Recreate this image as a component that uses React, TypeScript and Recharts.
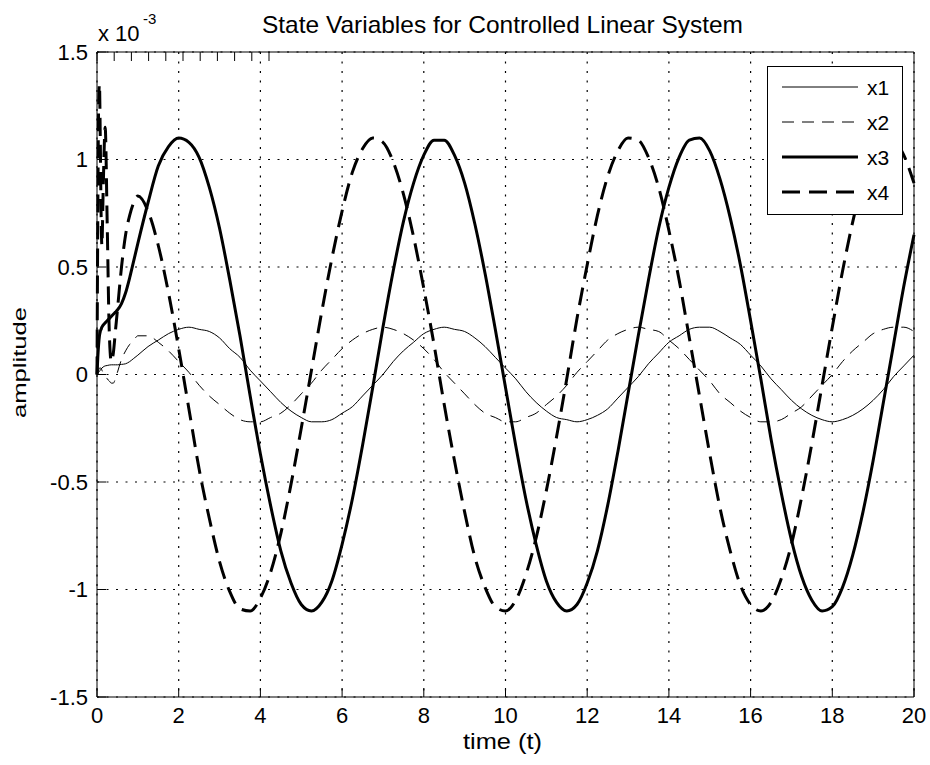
import { CartesianGrid, Legend, Line, LineChart, XAxis, YAxis } from 'recharts'

// time samples (s); dense at the start where x4 rings
const time = [
  0, 0.02, 0.04, 0.06, 0.08, 0.1, 0.12, 0.15, 0.2, 0.25, 0.3, 0.35, 0.4, 0.45, 0.5, 0.6, 0.7, 0.8, 0.9,
  1, 1.25, 1.5, 1.75, 2, 2.25, 2.5, 2.75, 3, 3.25, 3.5, 3.75, 4, 4.25, 4.5, 4.75,
  5, 5.25, 5.5, 5.75, 6, 6.25, 6.5, 6.75, 7, 7.25, 7.5, 7.75, 8, 8.25, 8.5, 8.75,
  9, 9.25, 9.5, 9.75, 10, 10.25, 10.5, 10.75, 11, 11.25, 11.5, 11.75, 12, 12.25, 12.5, 12.75,
  13, 13.25, 13.5, 13.75, 14, 14.25, 14.5, 14.75, 15, 15.25, 15.5, 15.75, 16, 16.25, 16.5, 16.75,
  17, 17.25, 17.5, 17.75, 18, 18.25, 18.5, 18.75, 19, 19.25, 19.5, 19.75, 20,
]

// amplitudes in units of 1e-3
const x1 = [
  0, 0.005, 0.01, 0.015, 0.02, 0.025, 0.03, 0.035, 0.04, 0.042, 0.044, 0.045, 0.045, 0.045, 0.045, 0.047, 0.05, 0.06, 0.075,
  0.09, 0.13, 0.16, 0.19, 0.21, 0.22, 0.21, 0.2, 0.17, 0.12, 0.08, 0.02, -0.03, -0.08, -0.13, -0.17,
  -0.2, -0.22, -0.22, -0.21, -0.18, -0.15, -0.1, -0.05, 0, 0.06, 0.11, 0.15, 0.19, 0.21, 0.22, 0.21,
  0.2, 0.17, 0.13, 0.08, 0.03, -0.02, -0.08, -0.13, -0.17, -0.2, -0.21, -0.22, -0.21, -0.19, -0.16, -0.11,
  -0.06, -0.01, 0.05, 0.1, 0.15, 0.18, 0.21, 0.22, 0.22, 0.2, 0.17, 0.14, 0.09, 0.04, -0.02, -0.07,
  -0.12, -0.16, -0.19, -0.21, -0.22, -0.21, -0.19, -0.16, -0.12, -0.07, -0.01, 0.04, 0.09,
]

const x2 = [
  0, 0.01, 0.02, 0.03, 0.03, 0.03, 0.02, 0.01, 0, -0.02, -0.03, -0.04, -0.04, -0.02, 0.01, 0.07, 0.11, 0.14, 0.16,
  0.18, 0.18, 0.15, 0.11, 0.06, 0.01, -0.05, -0.1, -0.14, -0.18, -0.21, -0.22, -0.22, -0.2, -0.18, -0.14,
  -0.09, -0.04, 0.02, 0.07, 0.12, 0.16, 0.19, 0.21, 0.22, 0.21, 0.19, 0.16, 0.12, 0.07, 0.01, -0.04,
  -0.09, -0.14, -0.18, -0.2, -0.22, -0.22, -0.2, -0.18, -0.14, -0.1, -0.05, 0.01, 0.06, 0.11, 0.16, 0.19,
  0.21, 0.22, 0.21, 0.2, 0.16, 0.12, 0.07, 0.02, -0.03, -0.09, -0.13, -0.17, -0.2, -0.22, -0.22, -0.21,
  -0.18, -0.15, -0.1, -0.05, 0, 0.06, 0.11, 0.15, 0.19, 0.21, 0.22, 0.22, 0.2,
]

const x3 = [
  0, 0.08, 0.14, 0.18, 0.2, 0.21, 0.22, 0.23, 0.24, 0.25, 0.26, 0.27, 0.28, 0.29, 0.3, 0.33, 0.38, 0.45, 0.53,
  0.61, 0.8, 0.97, 1.06, 1.1, 1.08, 1.01, 0.87, 0.68, 0.44, 0.18, -0.1, -0.37, -0.61, -0.82, -0.97,
  -1.07, -1.1, -1.06, -0.96, -0.79, -0.58, -0.33, -0.06, 0.22, 0.48, 0.71, 0.89, 1.02, 1.09, 1.09, 1.02,
  0.89, 0.7, 0.47, 0.21, -0.06, -0.33, -0.58, -0.79, -0.96, -1.06, -1.1, -1.07, -0.97, -0.82, -0.61, -0.36,
  -0.09, 0.18, 0.44, 0.68, 0.87, 1.01, 1.09, 1.1, 1.04, 0.91, 0.73, 0.51, 0.25, -0.02, -0.3, -0.55,
  -0.77, -0.94, -1.05, -1.1, -1.08, -0.99, -0.84, -0.64, -0.4, -0.13, 0.14, 0.41, 0.65,
]

const x4 = [
  0, 0.75, 1.25, 1.35, 1.1, 0.75, 0.6, 0.85, 1.15, 0.7, 0.2, 0.06, 0.1, 0.2, 0.3, 0.5, 0.65, 0.74, 0.8,
  0.83, 0.76, 0.6, 0.38, 0.12, -0.16, -0.44, -0.67, -0.87, -1.01, -1.09, -1.1, -1.04, -0.92, -0.74, -0.51,
  -0.25, 0.02, 0.29, 0.54, 0.76, 0.94, 1.05, 1.1, 1.08, 0.99, 0.84, 0.64, 0.4, 0.14, -0.14, -0.4,
  -0.64, -0.85, -0.99, -1.08, -1.1, -1.05, -0.93, -0.76, -0.54, -0.29, -0.02, 0.26, 0.51, 0.74, 0.92, 1.04,
  1.1, 1.09, 1.01, 0.87, 0.67, 0.44, 0.17, -0.1, -0.37, -0.62, -0.82, -0.98, -1.07, -1.1, -1.06, -0.95,
  -0.79, -0.57, -0.32, -0.05, 0.22, 0.48, 0.71, 0.9, 1.03, 1.09, 1.09, 1.02, 0.89,
]

const xTicks = [0, 2, 4, 6, 8, 10, 12, 14, 16, 18, 20]
const yTicks = [-1.5, -1, -0.5, 0, 0.5, 1, 1.5]

const series = [
  { key: 'x1', width: 1, dash: undefined },
  { key: 'x2', width: 1, dash: '12 8' },
  { key: 'x3', width: 3, dash: undefined },
  { key: 'x4', width: 3, dash: '18 9' },
]

const rows = time.map((t, i) => ({ t, x1: x1[i], x2: x2[i], x3: x3[i], x4: x4[i] }))

const font = '"Liberation Sans", Arial, Helvetica, sans-serif'
const tickStyle = { fill: '#000', fontSize: 22, fontFamily: font }

// ticks point inward like MATLAB's default axes
type TickProps = { x?: number; y?: number; payload?: { value: number }; side: 'bottom' | 'left' }

function InTick({ x = 0, y = 0, payload, side }: TickProps) {
  const v = payload ? payload.value : 0
  if (side === 'bottom') {
    return (
      <g>
        <line x1={x} x2={x} y1={y} y2={y - 9} stroke="#000" />
        <text x={x} y={y + 10} dy="0.72em" textAnchor="middle" {...tickStyle}>
          {v}
        </text>
      </g>
    )
  }
  return (
    <g>
      <line x1={x} x2={x + 9} y1={y} y2={y} stroke="#000" />
      <text x={x - 9} y={y} dy="0.36em" textAnchor="end" {...tickStyle}>
        {v}
      </text>
    </g>
  )
}

function MarkOnly({ x = 0, y = 0, side }: { x?: number; y?: number; side: 'top' | 'right' }) {
  if (side === 'top') return <line x1={x} x2={x} y1={y} y2={y + 9} stroke="#000" />
  return <line x1={x} x2={x - 9} y1={y} y2={y} stroke="#000" />
}

function LegendBox() {
  return (
    <div
      style={{
        width: 136,
        height: 149,
        boxSizing: 'border-box',
        border: '1px solid #000',
        background: '#fff',
      }}
    >
      <svg width={134} height={147} style={{ display: 'block' }}>
        {series.map((s, i) => (
          <g key={s.key}>
            <line
              x1={14}
              x2={90}
              y1={20 + 35 * i}
              y2={20 + 35 * i}
              stroke="#000"
              strokeWidth={s.width}
              strokeDasharray={s.dash}
            />
            <text x={99} y={20 + 35 * i} dy="0.36em" fontSize={21} fontFamily={font} fill="#000">
              {s.key}
            </text>
          </g>
        ))}
      </svg>
    </div>
  )
}

export default function App() {
  return (
    <div style={{ position: 'relative', width: 930, height: 765, background: '#fff' }}>
      <style>{'body{margin:0;background:#fff}'}</style>
      <LineChart
        width={930}
        height={765}
        data={rows}
        margin={{ top: 42, right: 6, bottom: 28, left: 37 }}
      >
        <CartesianGrid stroke="#000" strokeWidth={1.2} strokeDasharray="2 7.5" />
        <XAxis
          dataKey="t"
          type="number"
          domain={[0, 20]}
          ticks={xTicks}
          interval={0}
          height={40}
          tickSize={0}
          tickMargin={0}
          axisLine={{ stroke: '#000' }}
          tickLine={false}
          tick={(p: any) => <InTick {...p} side="bottom" />}
        />
        <XAxis
          xAxisId="top"
          orientation="top"
          type="number"
          domain={[0, 20]}
          ticks={xTicks}
          interval={0}
          height={10}
          tickSize={0}
          tickMargin={0}
          axisLine={{ stroke: '#000' }}
          tickLine={false}
          tick={(p: any) => <MarkOnly {...p} side="top" />}
        />
        <YAxis
          type="number"
          domain={[-1.5, 1.5]}
          ticks={yTicks}
          interval={0}
          width={60}
          tickSize={0}
          tickMargin={0}
          axisLine={{ stroke: '#000' }}
          tickLine={false}
          tick={(p: any) => <InTick {...p} side="left" />}
        />
        <YAxis
          yAxisId="right"
          orientation="right"
          type="number"
          domain={[-1.5, 1.5]}
          ticks={yTicks}
          interval={0}
          width={10}
          tickSize={0}
          tickMargin={0}
          axisLine={{ stroke: '#000' }}
          tickLine={false}
          tick={(p: any) => <MarkOnly {...p} side="right" />}
        />
        {series.map((s) => (
          <Line
            key={s.key}
            dataKey={s.key}
            type="monotone"
            stroke="#000"
            strokeWidth={s.width}
            strokeDasharray={s.dash}
            dot={false}
            activeDot={false}
            isAnimationActive={false}
          />
        ))}
        <Legend
          layout="horizontal"
          verticalAlign="middle"
          align="center"
          content={() => <LegendBox />}
          wrapperStyle={{ left: 767, top: 66, width: 136, height: 149, margin: 0 }}
        />
      </LineChart>
      <svg
        width={930}
        height={765}
        style={{ position: 'absolute', left: 0, top: 0, pointerEvents: 'none' }}
      >
        <g fontFamily={font} fill="#000">
          <text x={262} y={33} fontSize={24} textLength={481} lengthAdjust="spacingAndGlyphs">
            State Variables for Controlled Linear System
          </text>
          <text x={98} y={41} fontSize={22}>
            x 10
          </text>
          <text x={143} y={24} fontSize={15}>
            -3
          </text>
          <text x={463} y={749} fontSize={22} textLength={79} lengthAdjust="spacingAndGlyphs">
            time (t)
          </text>
          <text
            transform="translate(26,362.5) rotate(-90)"
            textAnchor="middle"
            fontSize={18}
            textLength={111}
            lengthAdjust="spacingAndGlyphs"
          >
            amplitude
          </text>
        </g>
      </svg>
    </div>
  )
}
